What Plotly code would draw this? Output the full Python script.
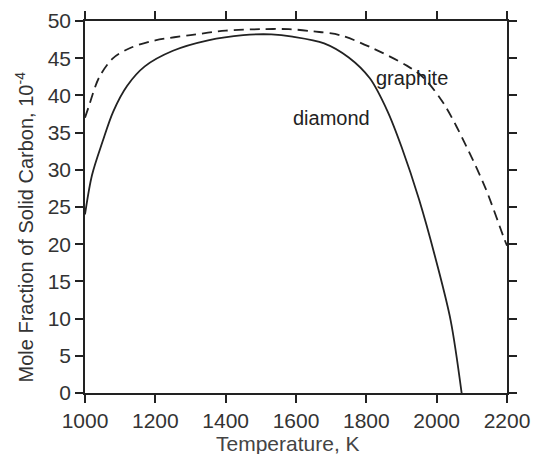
import plotly.graph_objects as go

# Temperature (K) and mole fraction of solid carbon (x 10^-4)
diamond_T = [1000, 1020, 1050, 1080, 1120, 1170, 1250, 1350, 1450, 1530,
             1590, 1680, 1750, 1810, 1860, 1900, 1950, 2000, 2040, 2071]
diamond_X = [24.0, 29.3, 33.8, 37.8, 41.3, 43.9, 46.0, 47.4, 48.1, 48.2,
             47.9, 47.0, 45.1, 42.3, 37.9, 33.1, 26.0, 17.5, 9.7, 0.0]

graphite_T = [1000, 1010, 1040, 1080, 1130, 1200, 1300, 1400, 1500, 1580,
              1650, 1725, 1820, 1915, 1960, 2020, 2085, 2140, 2190, 2200]
graphite_X = [37.0, 38.4, 42.4, 45.0, 46.4, 47.4, 48.1, 48.7, 48.9, 48.9,
              48.6, 48.1, 46.3, 44.0, 42.5, 38.9, 33.1, 27.4, 21.0, 19.8]

x_ticks = [1000, 1200, 1400, 1600, 1800, 2000, 2200]
y_ticks = [0, 5, 10, 15, 20, 25, 30, 35, 40, 45, 50]

FONT = "Liberation Sans, Arial, Helvetica, sans-serif"

fig = go.Figure()
fig.add_trace(go.Scatter(x=graphite_T, y=graphite_X, mode="lines",
                         line=dict(color="#222", width=1.8, dash="10px,6px",
                                   shape="spline", smoothing=0.9),
                         name="graphite", showlegend=False))
fig.add_trace(go.Scatter(x=diamond_T, y=diamond_X, mode="lines",
                         line=dict(color="#222", width=1.8, shape="spline", smoothing=0.9),
                         name="diamond", showlegend=False))

fig.add_annotation(x=1930, y=42.3, text="graphite", showarrow=False,
                   font=dict(family=FONT, size=20, color="#222"))
fig.add_annotation(x=1702, y=37.0, text="diamond", showarrow=False,
                   font=dict(family=FONT, size=20, color="#222"))

# axis titles placed as annotations to match the reference positions
fig.add_annotation(xref="paper", yref="paper", x=0, y=0.445, xshift=-61,
                   text="Mole Fraction of Solid Carbon, 10<sup>-4</sup>",
                   textangle=-90, showarrow=False, xanchor="center", yanchor="middle",
                   font=dict(family=FONT, size=20, color="#333"))
fig.add_annotation(xref="paper", yref="paper", x=0.481, y=0, yshift=-50,
                   text="Temperature, K", showarrow=False,
                   xanchor="center", yanchor="middle",
                   font=dict(family=FONT, size=21, color="#444"))

axis_common = dict(showline=True, linecolor="#222", linewidth=1.5, mirror="ticks",
                   ticks="outside", ticklen=8, tickwidth=1.5, tickcolor="#222",
                   showgrid=False, zeroline=False, automargin=False,
                   tickfont=dict(family=FONT, size=21, color="#333"))

fig.update_xaxes(range=[1000, 2200], tickvals=x_ticks,
                 ticktext=[str(v) for v in x_ticks], **axis_common)
fig.update_yaxes(range=[0, 50], tickvals=y_ticks,
                 ticktext=[str(v) for v in y_ticks], **axis_common)

fig.update_layout(width=534, height=454,
                  margin=dict(l=85, r=27, t=21, b=61),
                  paper_bgcolor="white", plot_bgcolor="white")

fig.write_html("out.html", config={"displayModeBar": False},
               post_script="document.body.style.margin='0';document.body.style.overflow='hidden';")
